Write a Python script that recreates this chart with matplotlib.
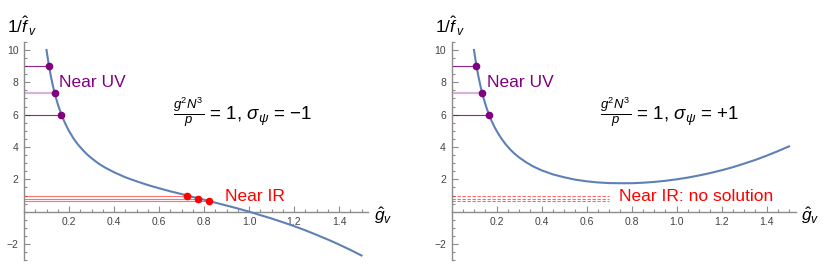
import matplotlib
matplotlib.use('Agg')
import matplotlib.pyplot as plt
from matplotlib.ticker import MultipleLocator, FixedLocator

plt.rcParams['font.family'] = ['Liberation Sans', 'DejaVu Sans']
plt.rcParams['mathtext.fontset'] = 'custom'
plt.rcParams['mathtext.rm'] = 'Liberation Sans'
plt.rcParams['mathtext.it'] = 'Liberation Sans:italic'
plt.rcParams['mathtext.bf'] = 'Liberation Sans:bold'

# curve values
g_vals = [0.10, 0.11, 0.12, 0.13, 0.14, 0.15, 0.16, 0.17, 0.18, 0.19, 0.20,
          0.22, 0.24, 0.26, 0.28, 0.30, 0.33, 0.36, 0.40, 0.45, 0.50, 0.55,
          0.60, 0.65, 0.70, 0.75, 0.80, 0.85, 0.90, 0.95, 1.00, 1.05, 1.10,
          1.15, 1.20, 1.25, 1.30, 1.35, 1.40, 1.45, 1.50]
inv_f_minus = [10.00, 9.09, 8.33, 7.69, 7.14, 6.66, 6.25, 5.88, 5.55, 5.26, 4.99,
               4.53, 4.15, 3.83, 3.55, 3.31, 2.99, 2.73, 2.44, 2.13, 1.88, 1.65,
               1.45, 1.26, 1.09, 0.91, 0.74, 0.56, 0.38, 0.20, 0.00, -0.21, -0.42,
               -0.65, -0.89, -1.15, -1.43, -1.72, -2.03, -2.36, -2.71]
inv_f_plus = [10.00, 9.09, 8.34, 7.69, 7.15, 6.67, 6.25, 5.89, 5.56, 5.27, 5.01,
              4.56, 4.18, 3.86, 3.59, 3.36, 3.07, 2.82, 2.56, 2.31, 2.13, 1.98,
              1.88, 1.81, 1.77, 1.76, 1.76, 1.79, 1.84, 1.91, 2.00, 2.11, 2.24,
              2.39, 2.56, 2.75, 2.97, 3.20, 3.46, 3.74, 4.04]

# marked points
uv_g = [0.11, 0.136, 0.166]
uv_y = [9.0, 7.35, 6.0]
ir_g = [0.725, 0.775, 0.82]
ir_y = [1.0, 0.81, 0.67]
ir_dash_end = 0.70

blue = '#5E81B5'
purple = '#800080'
red = '#FF0000'
axis_col = '#8c8c8c'

fig = plt.figure(figsize=(8.30, 2.73), dpi=100)


def setup_axes(ax):
    ax.set_xlim(0, 1.53)
    ax.set_ylim(-3, 10.5)
    for s in ['top', 'right']:
        ax.spines[s].set_visible(False)
    ax.spines['left'].set_position(('data', 0))
    ax.spines['bottom'].set_position(('data', 0))
    for s in ['left', 'bottom']:
        ax.spines[s].set_color(axis_col)
        ax.spines[s].set_linewidth(1.0)
    ax.xaxis.set_major_locator(FixedLocator([0.2, 0.4, 0.6, 0.8, 1.0, 1.2, 1.4]))
    ax.xaxis.set_minor_locator(MultipleLocator(0.05))
    ax.yaxis.set_major_locator(FixedLocator([-2, 2, 4, 6, 8, 10]))
    ax.yaxis.set_minor_locator(MultipleLocator(0.5))
    ax.set_xticklabels(['0.2', '0.4', '0.6', '0.8', '1.0', '1.2', '1.4'])
    ax.set_yticklabels(['\u22122', '2', '4', '6', '8', '10'])
    ax.tick_params(which='both', direction='in', color=axis_col, labelsize=7.5,
                   labelcolor='#444444', width=0.8)
    ax.tick_params(which='major', length=4, pad=4)
    ax.tick_params(which='minor', length=2.2)
    ax.patch.set_visible(False)
    ax.text(-0.075, 11.45, r'$1/\hat{f}_{\,v}$', fontsize=12.5, ha='left',
            va='center', clip_on=False)
    ax.text(1.595, -0.25, r'$\hat{g}_v$', fontsize=12.5, ha='center',
            va='center', clip_on=False)


def draw_uv(ax):
    for i, (gx, yy) in enumerate(zip(uv_g, uv_y)):
        if i == 1:
            ax.plot([0, gx], [yy, yy], color=purple, lw=1.6, alpha=0.3)
        else:
            ax.plot([0, gx], [yy, yy], color=purple, lw=0.8, alpha=0.85)
    ax.plot(uv_g, uv_y, 'o', color=purple, ms=4.5, zorder=5)
    ax.text(0.157, 8.0, 'Near UV', color=purple, fontsize=12.5,
            ha='left', va='center')


# left panel: sigma = -1
ax1 = fig.add_axes([24 / 830, 0.0469, 344.25 / 830, 0.7996])
setup_axes(ax1)
for gx, yy in zip(ir_g, ir_y):
    ax1.plot([0, gx], [yy, yy], color=red, lw=0.8, alpha=0.55)
ax1.plot(g_vals, inv_f_minus, color=blue, lw=1.5, zorder=3)
draw_uv(ax1)
ax1.plot(ir_g, ir_y, 'o', color=red, ms=4.5, zorder=5)
ax1.text(0.893, 0.97, 'Near IR', color=red, fontsize=12.5, ha='left', va='center')
ax1.text(0.662, 6.1, r'$\frac{g^2N^3}{p}$ = 1, $\sigma_\psi$ = ' + '\u22121',
         fontsize=13.5, ha='left', va='center')

# right panel: sigma = +1
ax2 = fig.add_axes([451.5 / 830, 0.0469, 344.25 / 830, 0.7996])
setup_axes(ax2)
for yy in ir_y:
    ax2.plot([0, ir_dash_end], [yy, yy], color=red, lw=0.8, alpha=0.6,
             linestyle=(0, (3, 1.5)))
ax2.plot(g_vals, inv_f_plus, color=blue, lw=1.5, zorder=3)
draw_uv(ax2)
ax2.text(0.745, 0.93, 'Near IR: no solution', color=red, fontsize=12.5,
         ha='left', va='center')
ax2.text(0.66, 6.1, r'$\frac{g^2N^3}{p}$ = 1, $\sigma_\psi$ = +1', fontsize=13.5,
         ha='left', va='center')

fig.savefig('out.png', dpi=100)
